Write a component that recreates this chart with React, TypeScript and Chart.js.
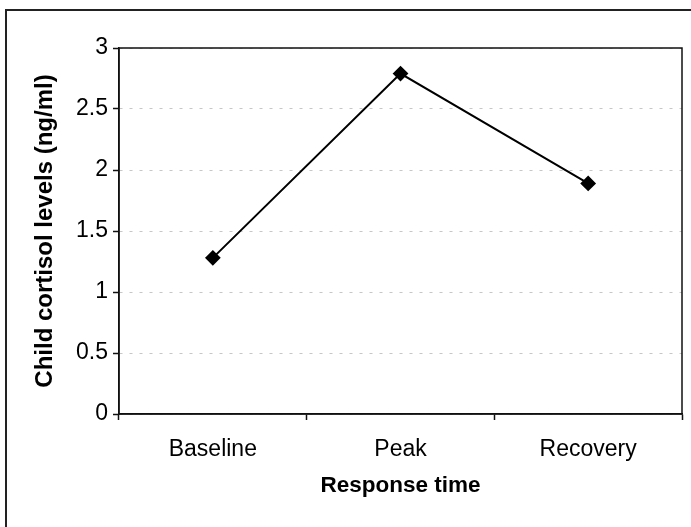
import React, { useEffect, useRef } from "react";
import { Chart, registerables } from "chart.js";

Chart.register(...registerables);

const categories = ["Baseline", "Peak", "Recovery"];
const cortisol = [1.28, 2.79, 1.89];
const yTicks = [0, 0.5, 1, 1.5, 2, 2.5, 3];
const xTitle = "Response time";
const yTitle = "Child cortisol levels (ng/ml)";

const FONT = "'Liberation Sans', Arial, sans-serif";

const framePlugin = {
  id: "frame",
  beforeDraw(chart: any) {
    const ctx = chart.ctx;
    ctx.save();
    ctx.strokeStyle = "#222";
    ctx.lineWidth = 2;
    ctx.beginPath();
    ctx.moveTo(6, 527);
    ctx.lineTo(6, 10);
    ctx.lineTo(691, 10);
    ctx.stroke();
    ctx.restore();
  },
  afterDatasetsDraw(chart: any) {
    const { ctx, chartArea } = chart;
    ctx.save();
    ctx.strokeStyle = "#111";
    ctx.lineWidth = 1.5;
    ctx.strokeRect(chartArea.left, chartArea.top, chartArea.right - chartArea.left, chartArea.bottom - chartArea.top);
    ctx.restore();
  },
};

export default function App() {
  const ref = useRef<HTMLCanvasElement>(null);
  useEffect(() => {
    document.body.style.margin = "0";
    const chart = new Chart(ref.current!, {
      type: "line",
      data: {
        labels: categories,
        datasets: [
          {
            data: cortisol,
            borderColor: "#000",
            backgroundColor: "#000",
            borderWidth: 2,
            pointStyle: "rectRot",
            pointRadius: 6.5,
            pointBackgroundColor: "#000",
            pointBorderColor: "#000",
            tension: 0,
          },
        ],
      },
      options: {
        responsive: false,
        animation: false,
        layout: { padding: { left: 0, top: 48, right: 9, bottom: 0 } },
        plugins: { legend: { display: false }, tooltip: { enabled: false } },
        scales: {
          x: {
            type: "category",
            offset: true,
            grid: {
              offset: true,
              drawOnChartArea: false,
              drawTicks: true,
              tickLength: 6,
              tickColor: "#111",
              tickWidth: 1.5,
            },
            border: { display: true, color: "#111", width: 1.5 },
            ticks: {
              color: "#000",
              padding: 16,
              font: { family: FONT, size: 23 },
            },
            title: {
              display: true,
              text: xTitle,
              color: "#000",
              font: { family: FONT, size: 22.5, weight: "bold" },
              padding: { top: 0, bottom: 28 },
            },
            afterFit(scale: any) {
              scale.height = 113;
            },
          },
          y: {
            min: 0,
            max: 3,
            afterBuildTicks(scale: any) {
              scale.ticks = yTicks.map((v) => ({ value: v }));
            },
            grid: {
              color: "rgba(0,0,0,0.22)",
              tickColor: "#111",
              tickLength: 6,
              tickWidth: 1.5,
              tickBorderDash: [],
            },
            border: { display: true, color: "#111", width: 1.5, dash: [3, 7] },
            ticks: {
              color: "#000",
              padding: 5,
              font: { family: FONT, size: 23 },
              callback: (v: any) => String(v),
            },
            title: {
              display: true,
              text: yTitle,
              color: "#000",
              font: { family: FONT, size: 24, weight: "bold" },
              padding: { top: 31, bottom: 0 },
            },
            afterFit(scale: any) {
              scale.width = 119;
            },
          },
        },
      },
      plugins: [framePlugin],
    });
    return () => chart.destroy();
  }, []);
  return (
    <div style={{ width: 691, height: 527, background: "#fff" }}>
      <canvas ref={ref} width={691} height={527} style={{ display: "block" }} />
    </div>
  );
}
